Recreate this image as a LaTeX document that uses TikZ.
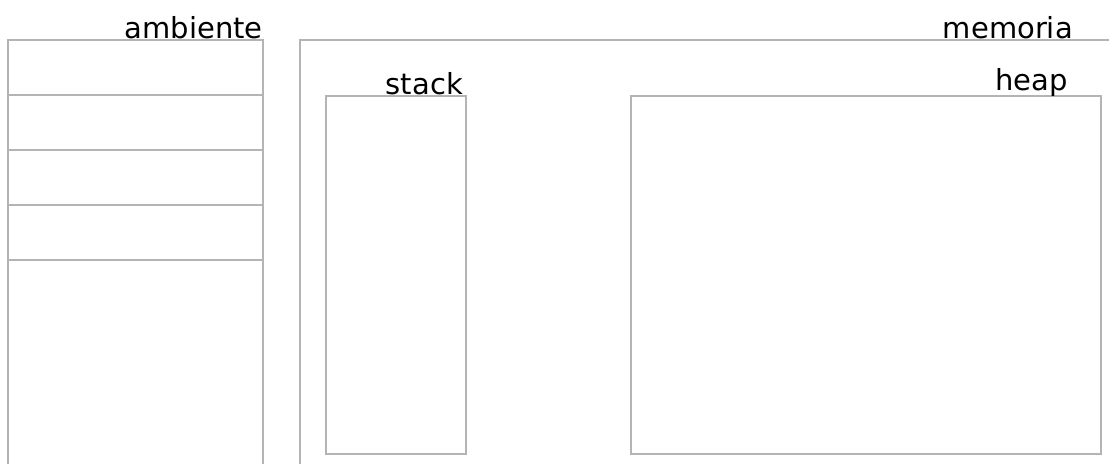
\documentclass[tikz,border=0pt]{standalone}
\usepackage{fontspec}
\setmainfont{DejaVu Sans}
\definecolor{framegray}{HTML}{B4B4B4}
\tikzset{
  frame/.style={draw=framegray, line width=1.6pt},
  tag/.style={anchor=base east, inner sep=0pt, font=\fontsize{29}{32}\selectfont},
}

\begin{document}
\begin{tikzpicture}[x=1pt,y=-1pt]
  \useasboundingbox (0,0) rectangle (1109,464);

  % ambiente
  \draw[frame] (8,464) -- (8,40) -- (263,40) -- (263,464);
  \foreach \y in {95,150,205,260}
    \draw[frame] (8,\y) -- (263,\y);
  \node[tag] (ambiente) at (263,38) {ambiente};

  % memoria
  \draw[frame] (300,464) -- (300,40) -- (1109,40);
  \node[tag] (memoria) at (1073,38) {memoria};

  % stack, heap
  \draw[frame] (326,96) rectangle (466,454);
  \node[tag] (stack) at (463,94) {stack};
  \draw[frame] (631,96) rectangle (1101,454);
  \node[tag] (heap) at (1068,90) {heap};

\end{tikzpicture}
\end{document}
